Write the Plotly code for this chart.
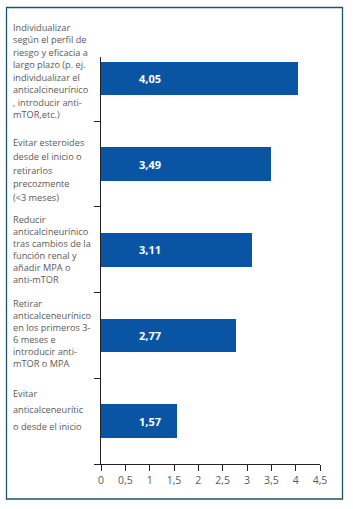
import plotly.graph_objects as go

categories = [
    "Individualizar<br>según el perfil de<br>riesgo y eficacia a<br>largo plazo (p. ej.<br>individualizar el<br>anticalcineurínico<br>, introducir anti-<br>mTOR,etc.)",
    "Evitar esteroides<br>desde el inicio o<br>retirarlos<br>precozmente<br>(<3 meses)",
    "Reducir<br>anticalcineurínico<br>tras cambios de la<br>función renal y<br>añadir MPA o<br>anti-mTOR",
    "Retirar<br>anticalceneurínico<br>en los primeros 3-<br>6 meses e<br>introducir anti-<br>mTOR o MPA",
    "Evitar<br>anticalceneurític<br>o desde el inicio",
]
values = [4.05, 3.49, 3.11, 2.77, 1.57]
x_ticks = [0, 0.5, 1, 1.5, 2, 2.5, 3, 3.5, 4, 4.5]

W, H = 353, 509
L, R, T, B = 101, 33, 57, 45
BAR_COLOR = "#0a55a3"
TEXT_COLOR = "#5a5a5a"
FRAME_COLOR = "#1e5566"
FONT = "Open Sans"

n = len(categories)
ypos = [n - 1 - i for i in range(n)]  # first category at top

fig = go.Figure()
fig.add_trace(go.Bar(
    x=values, y=ypos, orientation="h",
    marker=dict(color=BAR_COLOR, line=dict(width=0)),
    width=0.39, hoverinfo="skip",
))

pw, ph = W - L - R, H - T - B
def px_to_paper_x(px): return (px - L) / pw
def px_to_paper_y(py): return (H - B - py) / ph

annotations = []
# value labels (white, bold) inside bars
for v, y in zip(values, ypos):
    annotations.append(dict(
        x=1.0, y=y, xref="x", yref="y", text=f"{v:.2f}".replace(".", ","),
        showarrow=False, xanchor="center", yanchor="middle",
        font=dict(family=FONT, size=11, color="white", weight="bold"),
    ))

# category labels, left-aligned
line_base_sizes = [9.6, 10.6, 9.3, 9.3, 12.5]
y_shifts = [7, -6, 0, 2, 11]
for cat, y, bs, ys in zip(categories, ypos, line_base_sizes, y_shifts):
    txt = "<br>".join(f"<span style='font-size:9.2px'>{ln}</span>" for ln in cat.split("<br>"))
    annotations.append(dict(
        x=px_to_paper_x(11), y=y, xref="paper", yref="y", text=txt,
        showarrow=False, xanchor="left", yanchor="middle", align="left",
        yshift=ys, font=dict(family=FONT, size=bs, color=TEXT_COLOR),
    ))
fig.update_layout(annotations=annotations)

fig.add_shape(type="rect", xref="paper", yref="paper",
              x0=px_to_paper_x(6.5), x1=px_to_paper_x(342.5),
              y0=px_to_paper_y(499), y1=px_to_paper_y(7.5),
              line=dict(color=FRAME_COLOR, width=1.3), layer="above")

fig.update_layout(
    width=W, height=H,
    margin=dict(l=L, r=R, t=T, b=B, pad=0),
    paper_bgcolor="white", plot_bgcolor="white",
    separators=",.",
    showlegend=False,
    bargap=0,
    xaxis=dict(
        range=[0, 4.5], tickvals=x_ticks, showgrid=False, zeroline=False,
        showline=True, linecolor="#222", linewidth=1,
        ticks="outside", ticklen=6, tickcolor="#222", tickwidth=1,
        tickfont=dict(family=FONT, size=10.5, color=TEXT_COLOR),
        fixedrange=True,
    ),
    yaxis=dict(
        range=[-0.5, n - 0.75], tickvals=[i - 0.5 for i in range(n)],
        showticklabels=False, showgrid=False, zeroline=False,
        showline=True, linecolor="#222", linewidth=1,
        ticks="outside", ticklen=6, tickcolor="#222", tickwidth=1,
        fixedrange=True,
    ),
)

fig.write_html("out.html", config={"displayModeBar": False},
               post_script="document.body.style.margin='0';document.body.style.overflow='hidden';")
